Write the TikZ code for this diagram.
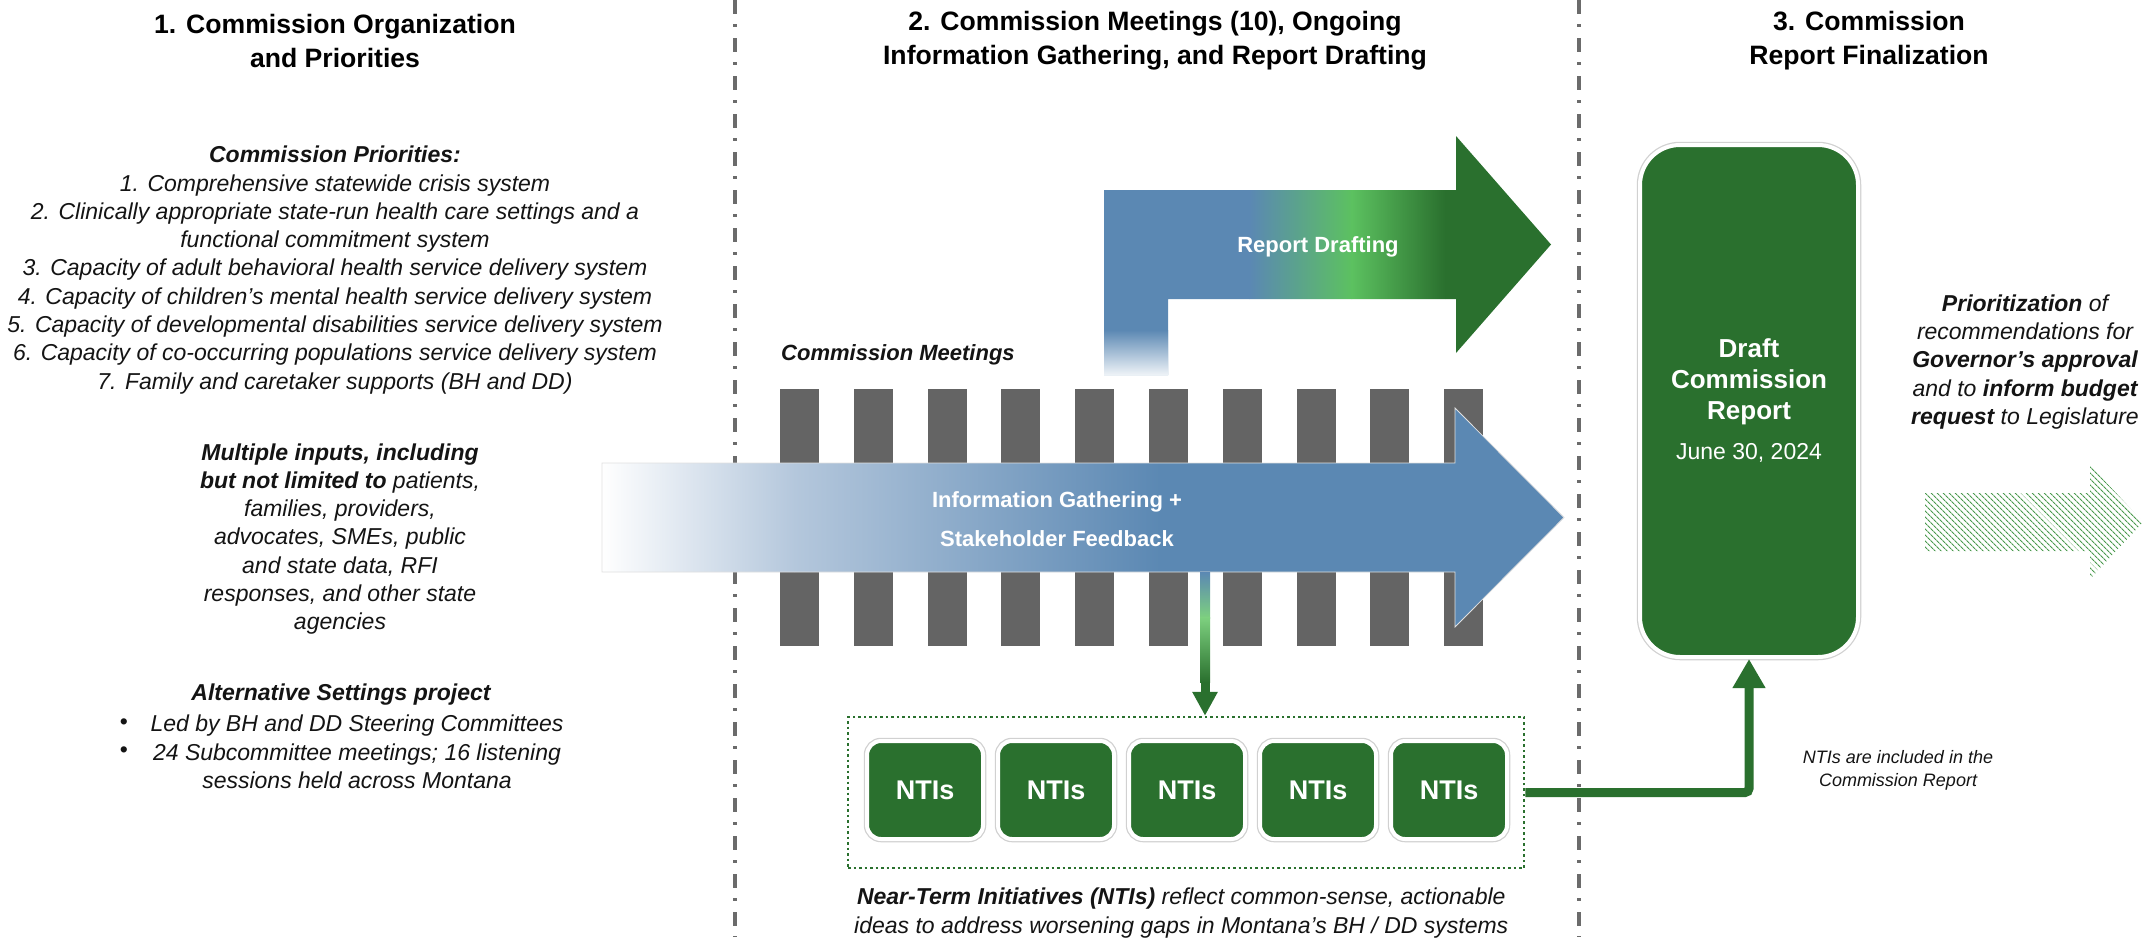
\documentclass[tikz,border=0pt]{standalone}
\usepackage{fontspec}
\setmainfont{Liberation Sans}
\usetikzlibrary{arrows.meta,patterns.meta,calc}
\definecolor{dkgreen}{HTML}{2A702E}
\definecolor{ltgreen}{HTML}{5CC160}
\definecolor{pgreen}{HTML}{7DD07F}
\definecolor{ablue}{HTML}{5B88B3}
\definecolor{lblue}{HTML}{B4C7DC}
\definecolor{bargray}{HTML}{646464}
\definecolor{divgray}{HTML}{6B6B6B}
\definecolor{hatchgreen}{HTML}{4A9A4E}
\definecolor{txtcol}{HTML}{141414}
\newcommand\fsz[2]{\fontsize{#1}{#2}\selectfont}
\tikzset{
  divider/.style={draw=divgray, line width=3.5pt, dash pattern=on 14pt off 10pt on 3pt off 11pt},
  titletxt/.style={align=center, inner sep=0pt, text=black, font=\fsz{26.6pt}{34pt}\bfseries},
  bodytxt/.style={align=center, inner sep=0pt, text=txtcol, font=\fsz{23pt}{28.3pt}\itshape},
  whitetxt/.style={align=center, inner sep=0pt, text=white, font=\fsz{22pt}{39pt}\bfseries},
  greenbox/.style={fill=dkgreen, draw=white, line width=4pt, preaction={draw=black!18, line width=6.5pt},
    text=white, align=center},
  ntibox/.style={greenbox, rounded corners=14pt, minimum width=116pt, minimum height=98pt,
    inner sep=0pt, font=\fsz{27pt}{32pt}\bfseries},
  dotbox/.style={draw=dkgreen, line width=2.5pt, dash pattern=on 2.5pt off 3pt, minimum width=676pt, minimum height=151pt, inner sep=0pt},
  greenconn/.style={draw=dkgreen, line width=9pt, rounded corners=4pt}
}
\begin{document}
\begin{tikzpicture}[x=1pt,y=-1pt]
\useasboundingbox (0,0) rectangle (2143,937);
\fill[white] (0,0) rectangle (2143,937);

% section dividers
\draw[divider] (735,0) -- (735,937);
\draw[divider] (1579,0) -- (1579,937);

% titles
\node[titletxt] (t1) at (335,41) {1. Commission Organization\\and Priorities};
\node[titletxt] (t2) at (1155,41) {2. Commission Meetings (10), Ongoing\\Information Gathering, and Report Drafting};
\node[titletxt] (t3) at (1869,41) {3. Commission\\Report Finalization};

% left column
\node[bodytxt] (prio) at (335,270) {\textbf{Commission Priorities:}\\
1. Comprehensive statewide crisis system\\
2. Clinically appropriate state-run health care settings and a\\
functional commitment system\\
3. Capacity of adult behavioral health service delivery system\\
4. Capacity of children’s mental health service delivery system\\
5. Capacity of developmental disabilities service delivery system\\
6. Capacity of co-occurring populations service delivery system\\
7. Family and caretaker supports (BH and DD)};

\node[bodytxt] (inputs) at (340,539) {\textbf{Multiple inputs, including}\\
\textbf{but not limited to} patients,\\
families, providers,\\
advocates, SMEs, public\\
and state data, RFI\\
responses, and other state\\
agencies};

\node[bodytxt] (alth) at (341,695) {\textbf{Alternative Settings project}};
\node[bodytxt] (altl) at (357,752) {Led by BH and DD Steering Committees\\
24 Subcommittee meetings; 16 listening\\
sessions held across Montana};
\node[bodytxt, font=\fsz{23pt}{28pt}] (b1) at (124,724) {•};
\node[bodytxt, font=\fsz{23pt}{28pt}] (b2) at (124,752) {•};

% commission meetings bars
\foreach \i in {0,...,9}
  \fill[bargray] ({780+73.8*\i},389) rectangle +(39,257);
\node[bodytxt, anchor=west, font=\fsz{22pt}{26pt}\bfseries\itshape] (cm) at (781,355) {Commission Meetings};

% report drafting bent arrow
\begin{scope}
\clip (1104,375) -- (1104,190) -- (1456,190) -- (1456,136) -- (1551,244.5) -- (1456,353) -- (1456,299) -- (1168,299) -- (1168,375) -- cycle;
\fill[ablue] (1100,130) rectangle (1250,380);
\shade[left color=ablue, right color=ltgreen] (1249.5,130) rectangle (1352,380);
\shade[left color=ltgreen, right color=dkgreen] (1351.5,130) rectangle (1445,380);
\fill[dkgreen] (1444.5,130) rectangle (1560,380);
\shade[top color=ablue, bottom color=white!92!ablue] (1100,330) rectangle (1170,376);
\end{scope}
\node[whitetxt] (rd) at (1318,247) {Report Drafting};

% information gathering arrow
\begin{scope}
\clip (602,463) -- (1455,463) -- (1455,408) -- (1564,517.5) -- (1455,627) -- (1455,572) -- (602,572) -- cycle;
\shade[left color=white, right color=lblue] (601,400) rectangle (795,630);
\shade[left color=lblue, right color=ablue] (794.5,400) rectangle (1160,630);
\fill[ablue] (1159.5,400) rectangle (1570,630);
\end{scope}
\draw[black!12, line width=0.8pt] (602,463) -- (1455,463) -- (1455,408) -- (1564,517.5) -- (1455,627) -- (1455,572) -- (602,572) -- cycle;
\node[whitetxt] (info) at (1057,519) {Information Gathering +\\Stakeholder Feedback};
\coordinate (infoB) at (1205,572);

% NTI group
\node[dotbox] (ntigroup) at (1186,792.5) {};
\foreach \i/\x in {1/925,2/1056,3/1187,4/1318,5/1449}
  \node[ntibox] (n\i) at (\x,790) {NTIs};

% connector from info arrow down to NTI group
\draw[greenconn, -{Triangle[width=24pt,length=24pt]}] (infoB) -- (infoB |- ntigroup.north);
\shade[top color=ablue, bottom color=pgreen] (1200,572) rectangle (1210,618);
\shade[top color=pgreen, bottom color=dkgreen] (1200,617.5) rectangle (1210,682);

\node[bodytxt, anchor=west] (fn) at (854,913) {\textbf{Near-Term Initiatives (NTIs)} reflect common-sense, actionable\\ideas to address worsening gaps in Montana’s BH / DD systems};

% draft commission report
\node[greenbox, rounded corners=40pt, minimum width=218pt, minimum height=512pt, inner sep=0pt,
  font=\fsz{26pt}{31pt}\bfseries] (draft) at (1749,401)
  {Draft\\Commission\\Report\\[9pt]{\fsz{23pt}{31pt}\mdseries June 30, 2024}};

\draw[greenconn, -{Triangle[width=31pt,length=29pt]}] (ntigroup.east) -| (draft.south);

\node[bodytxt, font=\fsz{18pt}{23pt}\itshape] (incl) at (1898,770) {NTIs are included in the\\Commission Report};

% right column
\node[bodytxt] (prio2) at (2025,362) {\textbf{Prioritization} of\\recommendations for\\\textbf{Governor’s approval}\\and to \textbf{inform budget}\\\textbf{request} to Legislature};

\fill[pattern={Lines[angle=-45,distance=4pt,line width=1.1pt]}, pattern color=hatchgreen]
  (1925,493) -- (2090,493) -- (2090,465) -- (2143,522) -- (2090,579) -- (2090,551) -- (1925,551) -- cycle;
\end{tikzpicture}
\end{document}
